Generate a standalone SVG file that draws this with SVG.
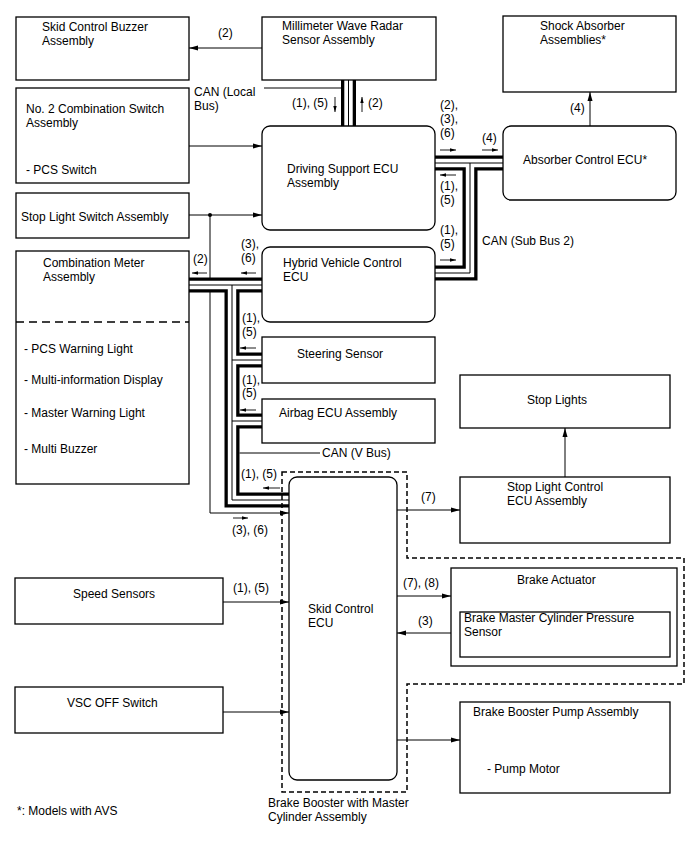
<svg xmlns="http://www.w3.org/2000/svg" width="688" height="852" viewBox="0 0 688 852">
<style>
.box{fill:#fff;stroke:#000;stroke-width:1.3}
.t{font-family:"Liberation Sans",Arial,sans-serif;font-size:12px;fill:#000}
.ln{fill:none;stroke:#000;stroke-width:1}
.sl{fill:none;stroke:#000;stroke-width:0.9}
.bo{fill:none;stroke:#000;stroke-width:15;stroke-linejoin:miter}
.bw{fill:none;stroke:#fff;stroke-width:8.4;stroke-linejoin:miter}
.bc{fill:none;stroke:#000;stroke-width:1;stroke-linejoin:miter}
.dash{fill:none;stroke:#000;stroke-width:1.5;stroke-dasharray:5 3}
</style>
<defs>
<marker id="ah" markerUnits="userSpaceOnUse" markerWidth="9" markerHeight="6" refX="9" refY="3" orient="auto"><path d="M0,0.5 L9,3 L0,5.5 z" fill="#000"/></marker>
<marker id="sa" markerUnits="userSpaceOnUse" markerWidth="6" markerHeight="4" refX="6" refY="2" orient="auto"><path d="M0,0.3 L6,2 L0,3.7 z" fill="#000"/></marker>
</defs>
<rect width="688" height="852" fill="#fff"/>

<g id="connectors">
  <!-- plain connectors -->
  <path class="ln" d="M262,48 H189" marker-end="url(#ah)"/>
  <path class="ln" d="M189,146 H262" marker-end="url(#ah)"/>
  <path class="ln" d="M189,215 H262" marker-end="url(#ah)"/>
  <path class="ln" d="M210,215 V513 H289" marker-end="url(#ah)"/>
  <circle cx="210" cy="215" r="2" fill="#000"/>
  <path class="ln" d="M590,126 V92" marker-end="url(#ah)"/>
  <path class="ln" d="M397,510 H460" marker-end="url(#ah)"/>
  <path class="ln" d="M565,477 V428" marker-end="url(#ah)"/>
  <path class="ln" d="M397,596 H451" marker-end="url(#ah)"/>
  <path class="ln" d="M460,633 H397" marker-end="url(#ah)"/>
  <path class="ln" d="M397,740 H460" marker-end="url(#ah)"/>
  <path class="ln" d="M223,602 H289" marker-end="url(#ah)"/>
  <path class="ln" d="M223,712 H289" marker-end="url(#ah)"/>

  <!-- CAN buses -->
  <g id="bus-local">
    <path class="bo" d="M348.5,80 V126"/>
    <path class="bw" d="M348.5,80 V126"/>
    <path class="bc" d="M348.5,80 V126"/>
  </g>
  <g id="bus-sub2">
    <path class="bo" d="M435,163 H503 M470,163 V273 H435"/>
    <path class="bw" d="M435,163 H503 M470,163 V273 H435"/>
    <path class="bc" d="M435,163 H503 M470,163 V273 H435"/>
  </g>
  <g id="bus-v">
    <path class="bo" d="M189,285 H262 M232,285 V500 H289 M232,360 H262 M232,421 H262"/>
    <path class="bw" d="M189,285 H262 M232,285 V500 H289 M232,360 H262 M232,421 H262"/>
    <path class="bc" d="M189,285 H262 M232,285 V500 H289 M232,360 H262 M232,421 H262"/>
  </g>
  <path class="ln" d="M264,88 H341"/>
  <path class="ln" d="M239.5,453 H320"/>

  <!-- small direction arrows -->
  <path class="sl" d="M335,97 V112" marker-end="url(#sa)"/>
  <path class="sl" d="M362,112 V97" marker-end="url(#sa)"/>
  <path class="sl" d="M440,150 H456" marker-end="url(#sa)"/>
  <path class="sl" d="M482,150 H498" marker-end="url(#sa)"/>
  <path class="sl" d="M456,175 H440" marker-end="url(#sa)"/>
  <path class="sl" d="M440,260 H456" marker-end="url(#sa)"/>
  <path class="sl" d="M207,273 H192" marker-end="url(#sa)"/>
  <path class="sl" d="M256,273 H241" marker-end="url(#sa)"/>
  <path class="sl" d="M256,348 H240" marker-end="url(#sa)"/>
  <path class="sl" d="M256,410 H240" marker-end="url(#sa)"/>
  <path class="sl" d="M280,488 H263" marker-end="url(#sa)"/>
  <path class="sl" d="M233,518 H248" marker-end="url(#sa)"/>

  <!-- connector labels -->
  <text class="t" x="218" y="37">(2)</text>
  <text class="t" x="194" y="96">CAN (Local</text>
  <text class="t" x="194" y="110">Bus)</text>
  <text class="t" x="292" y="107">(1), (5)</text>
  <text class="t" x="368" y="107">(2)</text>
  <text class="t" x="440" y="109">(2),</text>
  <text class="t" x="440" y="123">(3),</text>
  <text class="t" x="440" y="137">(6)</text>
  <text class="t" x="482" y="142">(4)</text>
  <text class="t" x="570" y="112">(4)</text>
  <text class="t" x="440" y="190">(1),</text>
  <text class="t" x="440" y="204">(5)</text>
  <text class="t" x="440" y="234">(1),</text>
  <text class="t" x="440" y="248">(5)</text>
  <text class="t" x="482" y="245">CAN (Sub Bus 2)</text>
  <text class="t" x="241" y="248">(3),</text>
  <text class="t" x="241" y="262">(6)</text>
  <text class="t" x="193" y="263">(2)</text>
  <text class="t" x="242" y="322">(1),</text>
  <text class="t" x="242" y="336">(5)</text>
  <text class="t" x="242" y="384">(1),</text>
  <text class="t" x="242" y="397">(5)</text>
  <text class="t" x="322" y="457">CAN (V Bus)</text>
  <text class="t" x="241" y="478">(1), (5)</text>
  <text class="t" x="232" y="534">(3), (6)</text>
  <text class="t" x="421" y="501">(7)</text>
  <text class="t" x="403" y="587">(7), (8)</text>
  <text class="t" x="418" y="625">(3)</text>
  <text class="t" x="233" y="592">(1), (5)</text>
</g>

<g id="n-buzzer">
  <rect class="box" x="16" y="17" width="173" height="63"/>
  <text class="t" x="42" y="31">Skid Control Buzzer</text>
  <text class="t" x="42" y="45">Assembly</text>
</g>
<g id="n-radar">
  <rect class="box" x="262" y="17" width="174" height="63"/>
  <text class="t" x="282" y="30">Millimeter Wave Radar</text>
  <text class="t" x="282" y="44">Sensor Assembly</text>
</g>
<g id="n-shock">
  <rect class="box" x="503" y="16" width="173" height="76"/>
  <text class="t" x="540" y="30">Shock Absorber</text>
  <text class="t" x="540" y="44">Assemblies*</text>
</g>
<g id="n-combsw">
  <rect class="box" x="16" y="88" width="173" height="95"/>
  <text class="t" x="26" y="113">No. 2 Combination Switch</text>
  <text class="t" x="26" y="127">Assembly</text>
  <text class="t" x="26" y="174">- PCS Switch</text>
</g>
<g id="n-ds">
  <rect class="box" x="262" y="126" width="173" height="104" rx="8"/>
  <text class="t" x="287" y="173">Driving Support ECU</text>
  <text class="t" x="287" y="187">Assembly</text>
</g>
<g id="n-absorber">
  <rect class="box" x="503" y="126" width="173" height="74" rx="8"/>
  <text class="t" x="523" y="164">Absorber Control ECU*</text>
</g>
<g id="n-stopsw">
  <rect class="box" x="16" y="193" width="173" height="45"/>
  <text class="t" x="21" y="221">Stop Light Switch Assembly</text>
</g>
<g id="n-meter">
  <rect class="box" x="16" y="251" width="173" height="233"/>
  <path d="M16,322 H189" fill="none" stroke="#000" stroke-width="1.3" stroke-dasharray="8 5"/>
  <text class="t" x="43" y="267">Combination Meter</text>
  <text class="t" x="43" y="281">Assembly</text>
  <text class="t" x="24" y="353">- PCS Warning Light</text>
  <text class="t" x="24" y="384">- Multi-information Display</text>
  <text class="t" x="24" y="417">- Master Warning Light</text>
  <text class="t" x="24" y="453">- Multi Buzzer</text>
</g>
<g id="n-hv">
  <rect class="box" x="262" y="247" width="173" height="75" rx="8"/>
  <text class="t" x="283" y="267">Hybrid Vehicle Control</text>
  <text class="t" x="283" y="281">ECU</text>
</g>
<g id="n-steer">
  <rect class="box" x="262" y="337" width="173" height="46"/>
  <text class="t" x="297" y="358">Steering Sensor</text>
</g>
<g id="n-airbag">
  <rect class="box" x="262" y="399" width="173" height="44"/>
  <text class="t" x="279" y="417">Airbag ECU Assembly</text>
</g>
<g id="n-stoplights">
  <rect class="box" x="460" y="375" width="210" height="53"/>
  <text class="t" x="527" y="404">Stop Lights</text>
</g>
<g id="n-slc">
  <rect class="box" x="460" y="477" width="210" height="66"/>
  <text class="t" x="507" y="491">Stop Light Control</text>
  <text class="t" x="507" y="505">ECU Assembly</text>
</g>
<g id="n-skid">
  <rect class="box" x="289" y="477" width="108" height="303" rx="8"/>
  <text class="t" x="308" y="613">Skid Control</text>
  <text class="t" x="308" y="627">ECU</text>
</g>
<g id="n-actuator">
  <rect class="box" x="451" y="568" width="226" height="98"/>
  <text class="t" x="517" y="584">Brake Actuator</text>
</g>
<g id="n-bmcps">
  <rect class="box" x="460" y="612" width="210" height="45"/>
  <text class="t" x="464" y="622">Brake Master Cylinder Pressure</text>
  <text class="t" x="464" y="636">Sensor</text>
</g>
<g id="n-pump">
  <rect class="box" x="460" y="702" width="210" height="91"/>
  <text class="t" x="473" y="716">Brake Booster Pump Assembly</text>
  <text class="t" x="487" y="773">- Pump Motor</text>
</g>
<g id="n-speed">
  <rect class="box" x="15" y="578" width="208" height="46"/>
  <text class="t" x="73" y="598">Speed Sensors</text>
</g>
<g id="n-vsc">
  <rect class="box" x="15" y="687" width="208" height="46"/>
  <text class="t" x="67" y="707">VSC OFF Switch</text>
</g>
<g id="n-booster">
  <path class="dash" d="M282,472 H407 V558 H684 V684 H407 V792 H282 Z"/>
  <text class="t" x="268" y="807">Brake Booster with Master</text>
  <text class="t" x="268" y="821">Cylinder Assembly</text>
</g>
<g id="note">
  <text class="t" x="17" y="815">*: Models with AVS</text>
</g>
</svg>
